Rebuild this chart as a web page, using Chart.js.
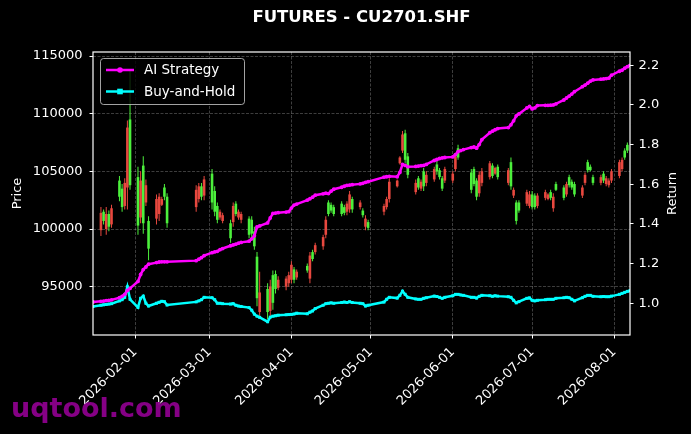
<!DOCTYPE html>
<html><head><meta charset="utf-8">
<script src="https://cdn.jsdelivr.net/npm/chart.js@4.4.1/dist/chart.umd.min.js"></script>
<style>html,body{margin:0;padding:0;background:#000;overflow:hidden}#wrap{width:691px;height:434px}</style>
</head><body><div id="wrap"><canvas id="c" width="691" height="434"></canvas></div>
<script>
// ---------- DATA ----------
const dates = [
'2026-01-16','2026-01-19','2026-01-20','2026-01-21','2026-01-22','2026-01-23','2026-01-26','2026-01-27','2026-01-28','2026-01-29','2026-01-30',
'2026-02-02','2026-02-03','2026-02-04','2026-02-05','2026-02-06','2026-02-09','2026-02-10','2026-02-11','2026-02-12','2026-02-13','2026-02-24','2026-02-25','2026-02-26','2026-02-27',
'2026-03-02','2026-03-03','2026-03-04','2026-03-05','2026-03-06','2026-03-09','2026-03-10','2026-03-11','2026-03-12','2026-03-13','2026-03-16','2026-03-17','2026-03-18','2026-03-19','2026-03-20','2026-03-23','2026-03-24','2026-03-25','2026-03-26','2026-03-27','2026-03-30','2026-03-31',
'2026-04-01','2026-04-02','2026-04-03','2026-04-07','2026-04-08','2026-04-09','2026-04-10','2026-04-13','2026-04-14','2026-04-15','2026-04-16','2026-04-17','2026-04-20','2026-04-21','2026-04-22','2026-04-23','2026-04-24','2026-04-27','2026-04-28','2026-04-29','2026-04-30',
'2026-05-06','2026-05-07','2026-05-08','2026-05-11','2026-05-12','2026-05-13','2026-05-14','2026-05-15','2026-05-18','2026-05-19','2026-05-20','2026-05-21','2026-05-22','2026-05-25','2026-05-26','2026-05-27','2026-05-28','2026-05-29',
'2026-06-01','2026-06-02','2026-06-03','2026-06-04','2026-06-05','2026-06-08','2026-06-09','2026-06-10','2026-06-11','2026-06-12','2026-06-15','2026-06-16','2026-06-17','2026-06-18','2026-06-22','2026-06-23','2026-06-24','2026-06-25','2026-06-26','2026-06-29','2026-06-30',
'2026-07-01','2026-07-02','2026-07-03','2026-07-06','2026-07-07','2026-07-08','2026-07-09','2026-07-10','2026-07-13','2026-07-14','2026-07-15','2026-07-16','2026-07-17','2026-07-20','2026-07-21','2026-07-22','2026-07-23','2026-07-24','2026-07-27','2026-07-28','2026-07-29','2026-07-30','2026-07-31',
'2026-08-03','2026-08-04','2026-08-05','2026-08-06','2026-08-07'];

const opens = [
null,99900,101500,100000,101300,100400,104200,103500,102000,103600,109500,
104500,101000,105500,102300,100700,100900,101300,102100,103600,102800,101900,102600,103700,102900,
104800,103300,102000,101000,100700,100500,100600,102200,101000,100800,100900,100800,99800,97600,92800,94800,92900,96000,96100,94900,95000,95300,
95600,96500,95800,96800,95700,98000,98000,98500,99500,102300,102100,101900,102200,101900,101500,101700,102600,101900,101600,100200,100600,
101500,101900,102600,103700,105700,106800,108300,106300,103200,104400,103500,105000,104000,104300,105600,105100,104400,104200,
104200,105200,107000,null,null,104900,105200,104200,103100,104000,104500,105500,104800,105400,104000,105800,102900,102300,102300,102200,102000,
103000,102900,102000,102700,102600,103200,101800,103900,103600,103000,104500,104100,103900,102900,104000,105800,105400,104500,104000,104800,103900,103800,104200,
104600,105200,106800,107300,null];
const highs = [
null,101900,101700,101900,101600,102100,104600,103900,104400,109400,113800,
105400,105000,106300,104300,101100,103000,103100,102800,103900,103100,103800,104000,104000,104600,
105200,103700,102300,101700,101400,100800,102300,102400,101700,101500,101100,101100,100200,98000,96300,95300,95600,96400,96400,95900,95900,96300,
97200,96700,96500,97000,98000,98200,98800,99500,101100,102500,102300,102100,102400,102100,102400,103300,102800,102500,101800,101200,100800,
102200,102800,104400,104300,106300,108500,108600,106600,104300,104600,104300,105300,105000,105400,105900,105300,104600,105400,
105000,106600,107300,null,null,105200,105400,104400,105000,105300,105900,105700,105400,105600,105300,106200,103600,102500,102500,103400,103300,
103300,103100,103100,103400,103100,103400,103100,104100,103800,104100,104700,104300,104100,103800,104900,106000,105600,104700,104700,105000,104600,104400,105200,
106000,106200,107000,107500,null];
const lows = [
null,99400,100400,99500,99800,100100,102400,101500,101700,101700,103400,
99500,100500,99600,102000,97300,100400,100700,102000,102500,100100,101500,102300,102500,102500,
101700,101100,100500,100800,100500,98800,100200,101100,100800,100500,99200,99300,98200,93300,92300,92200,92400,93000,94400,94700,94700,95000,
95300,95300,95600,96200,95300,97200,97800,98200,99200,101100,101400,101100,101100,101200,101200,101400,101400,101700,101000,99900,99900,
101200,101700,102300,103600,105600,106600,105700,104400,103000,103400,103300,103300,103700,104100,104700,104300,103300,104000,
104000,105000,106000,null,null,103100,103700,102500,102800,103700,104300,104400,104700,104300,103800,103400,102700,100400,101400,102000,101800,
101700,101700,101800,102500,102500,102500,101500,103300,102500,102800,103600,103400,102800,102700,103800,104900,105000,103800,103800,104000,103700,103600,104000,
104400,105000,106000,106600,null];
const closes = [
null,101400,100700,101300,100200,101800,102800,101900,104000,108800,103800,
100300,104200,100500,103800,98300,102600,102800,102600,102800,100500,103400,103700,102800,104300,
102300,101500,100800,101500,101200,99200,102000,101300,101500,101300,99500,99600,98500,94000,94500,92800,95000,93600,94800,95600,95700,96000,
96900,95600,96300,96400,97700,97400,98600,99300,100800,101300,101600,101300,101300,101400,102200,103000,101700,102300,101200,100900,100100,
102000,102600,104100,104200,106200,108200,106000,104700,104000,103600,104100,103700,104700,105200,105000,104500,103500,105200,
104800,106300,106200,null,null,103400,103900,102800,104700,105000,105700,104600,105300,104500,105100,103700,103400,100700,101600,103200,103000,
101900,101900,102900,103200,103000,102700,102800,103400,102700,103900,103800,103600,103000,103600,104700,105100,105100,104000,104500,104200,104400,104200,105000,
105800,106000,106200,106800,null];

const aiStrategy = [
1.007,1.010,1.011,1.013,1.015,1.017,1.028,1.035,1.045,1.065,1.075,
1.11,1.145,1.17,1.183,1.197,1.205,1.208,1.209,1.209,1.209,1.215,1.222,1.23,1.24,
1.255,1.259,1.262,1.27,1.276,1.29,1.294,1.298,1.303,1.307,1.313,1.325,1.34,1.385,1.39,1.405,1.43,1.453,1.455,1.457,1.46,1.462,
1.48,1.495,1.5,1.52,1.527,1.535,1.545,1.552,1.555,1.553,1.565,1.575,1.585,1.59,1.594,1.596,1.598,1.602,1.605,1.61,1.613,
1.636,1.638,1.64,1.638,1.66,1.70,1.695,1.688,1.69,1.692,1.694,1.695,1.70,1.72,1.725,1.73,1.733,1.735,
1.738,1.75,1.765,1.77,1.775,1.785,1.788,1.782,1.80,1.825,1.86,1.868,1.875,1.881,1.886,1.90,1.92,1.945,1.955,1.985,1.993,
1.98,1.985,1.997,1.998,1.998,1.999,2.0,2.005,2.025,2.035,2.045,2.055,2.067,2.092,2.1,2.11,2.12,2.126,2.13,2.131,2.133,2.135,2.15,
2.17,2.175,2.185,2.193,2.2];
const buyHold = [
0.984,0.990,0.992,0.994,0.996,0.998,1.012,1.018,1.03,1.083,1.02,
0.979,1.025,1.036,1.0,0.986,1.0,1.005,1.01,1.008,0.991,1.007,1.012,1.018,1.03,
1.028,1.018,1.0,1.0,0.998,0.996,0.998,0.99,0.986,0.984,0.978,0.965,0.945,0.935,0.929,0.907,0.93,0.935,0.937,0.94,0.942,0.943,
0.944,0.946,0.95,0.947,0.955,0.961,0.973,0.99,0.998,1.0,1.002,1.0,1.004,1.006,1.004,1.008,1.004,1.0,0.998,0.986,0.99,
1.006,1.02,1.03,1.026,1.04,1.061,1.045,1.03,1.022,1.02,1.02,1.025,1.028,1.036,1.034,1.03,1.025,1.03,
1.038,1.045,1.045,1.042,1.04,1.03,1.03,1.026,1.035,1.04,1.038,1.035,1.038,1.036,1.033,1.03,1.015,1.002,1.008,1.025,1.027,
1.015,1.012,1.015,1.018,1.02,1.02,1.02,1.025,1.028,1.03,1.028,1.02,1.012,1.028,1.035,1.04,1.04,1.035,1.033,1.034,1.033,1.033,1.036,
1.045,1.05,1.055,1.06,1.063];

const xTickDates = ['2026-02-01','2026-03-01','2026-04-01','2026-05-01','2026-06-01','2026-07-01','2026-08-01'];
const priceTicks = [95000,100000,105000,110000,115000];
const returnTicks = [1.0,1.2,1.4,1.6,1.8,2.0,2.2];
const priceRange = [90810,115350];
const returnRange = [0.84,2.267];

// ---------- helpers ----------
function dayNum(s){const p=s.split('-').map(Number);return (Date.UTC(p[0],p[1]-1,p[2])-Date.UTC(2026,0,1))/86400000;}
const UP='#e8483f', DOWN='#4cf03c';
const wickData=[], bodyData=[], wickColors=[], bodyColors=[];
dates.forEach((d,i)=>{
  if(opens[i]===null) return;
  const x=dayNum(d), col = closes[i]>=opens[i]?UP:DOWN;
  wickData.push({x:x,y:[lows[i],highs[i]]}); wickColors.push(col);
  bodyData.push({x:x,y:[opens[i],closes[i]]}); bodyColors.push(col);
});
const aiData = dates.map((d,i)=>({x:dayNum(d),y:aiStrategy[i]}));
const bhData = dates.map((d,i)=>({x:dayNum(d),y:buyHold[i]}));

const FONT='DejaVu Sans';
Chart.defaults.font.family = FONT;
Chart.defaults.color = '#fff';

const gridCommon = {color:'rgba(255,255,255,0.3)',lineWidth:0.8,tickColor:'#fff',tickLength:3.5,tickWidth:1,tickBorderDash:[]};

function rr(ctx,x,y,w,h,r){ctx.beginPath();ctx.moveTo(x+r,y);ctx.arcTo(x+w,y,x+w,y+h,r);ctx.arcTo(x+w,y+h,x,y+h,r);ctx.arcTo(x,y+h,x,y,r);ctx.arcTo(x,y,x+w,y,r);ctx.closePath();}

const deco = {
  id:'deco',
  beforeDraw(chart){const c=chart.ctx;c.save();c.fillStyle='#000';c.fillRect(0,0,chart.width,chart.height);c.restore();},
  afterDraw(chart){
    const c=chart.ctx, a=chart.chartArea;
    c.save();
    c.strokeStyle='#fff'; c.lineWidth=1.2;
    c.strokeRect(a.left,a.top,a.right-a.left,a.bottom-a.top);
    rr(c,100.5,58.5,144,46,3);
    c.fillStyle='rgba(0,0,0,0.8)'; c.fill();
    c.strokeStyle='rgba(204,204,204,0.8)'; c.lineWidth=1; c.stroke();
    c.lineWidth=2.5;
    c.strokeStyle='#ff00ff'; c.beginPath(); c.moveTo(106,70); c.lineTo(134,70); c.stroke();
    c.fillStyle='#ff00ff'; c.beginPath(); c.arc(120,70,2.8,0,Math.PI*2); c.fill();
    c.strokeStyle='#00ffff'; c.beginPath(); c.moveTo(106,91.5); c.lineTo(134,91.5); c.stroke();
    c.fillStyle='#00ffff'; c.fillRect(117.2,88.7,5.6,5.6);
    c.fillStyle='#fff'; c.font='13.5px "'+FONT+'"'; c.textAlign='left'; c.textBaseline='middle';
    c.fillText('AI Strategy',144,70.5);
    c.fillText('Buy-and-Hold',144,92);
    c.font='bold 16.5px "'+FONT+'"'; c.textAlign='center';
    c.fillText('FUTURES - CU2701.SHF',(a.left+a.right)/2,18);
    c.font='13px "'+FONT+'"';
    const cy=(a.top+a.bottom)/2;
    c.save(); c.translate(17.5,cy); c.rotate(-Math.PI/2); c.fillText('Price',0,0); c.restore();
    c.save(); c.translate(673,cy); c.rotate(-Math.PI/2); c.fillText('Return',0,0); c.restore();
    c.font='bold 27px "'+FONT+'"'; c.textAlign='left'; c.textBaseline='alphabetic';
    c.fillStyle='rgba(140,0,140,0.95)';
    c.fillText('uqtool.com',11,417);
    c.restore();
  }
};

new Chart(document.getElementById('c'),{
  type:'bar',
  data:{datasets:[
    {type:'line',label:'AI Strategy',data:aiData,yAxisID:'y1',xAxisID:'x',borderColor:'#ff00ff',backgroundColor:'#ff00ff',borderWidth:2.5,pointRadius:1.9,pointStyle:'circle',pointBorderWidth:0,pointHoverRadius:0,tension:0,order:0},
    {type:'line',label:'Buy-and-Hold',data:bhData,yAxisID:'y1',xAxisID:'x',borderColor:'#00ffff',backgroundColor:'#00ffff',borderWidth:2.5,pointRadius:2.1,pointStyle:'rect',pointBorderWidth:0,pointHoverRadius:0,tension:0,order:1},
    {label:'body',data:bodyData,yAxisID:'y',xAxisID:'x',backgroundColor:bodyColors,borderWidth:0,barThickness:2.6,grouped:false,inflateAmount:0,order:2},
    {label:'wick',data:wickData,yAxisID:'y',xAxisID:'x',backgroundColor:wickColors,borderWidth:0,barThickness:1,grouped:false,inflateAmount:0,order:3}
  ]},
  options:{
    responsive:false, animation:false, devicePixelRatio:1, events:[],
    layout:{padding:{top:52,left:0,right:0,bottom:0}},
    plugins:{legend:{display:false},title:{display:false},tooltip:{enabled:false}},
    scales:{
      x:{type:'linear',min:dayNum('2026-01-16'),max:dayNum('2026-08-07'),offset:false,
        afterBuildTicks:s=>{s.ticks=xTickDates.map(d=>({value:dayNum(d)}));},
        afterFit:s=>{s.height=99;},
        ticks:{color:'#fff',font:{size:13},maxRotation:45,minRotation:45,autoSkip:false,padding:6,
          callback:(v,i)=>xTickDates[i]},
        grid:Object.assign({offset:false},gridCommon),border:{display:false,dash:[3,1.5]}},
      y:{type:'linear',position:'left',min:priceRange[0],max:priceRange[1],
        afterBuildTicks:s=>{s.ticks=priceTicks.map(v=>({value:v}));},
        afterFit:s=>{s.width=93;},
        ticks:{color:'#fff',font:{size:13},padding:7,callback:v=>String(v)},
        grid:gridCommon,border:{display:false,dash:[3,1.5]}},
      y1:{type:'linear',position:'right',min:returnRange[0],max:returnRange[1],
        afterBuildTicks:s=>{s.ticks=returnTicks.map(v=>({value:v}));},
        afterFit:s=>{s.width=61;},
        ticks:{color:'#fff',font:{size:13},padding:5,callback:v=>Number(v).toFixed(1)},
        grid:Object.assign({},gridCommon,{drawOnChartArea:false}),border:{display:false}}
    }
  },
  plugins:[deco]
});
</script></body></html>
